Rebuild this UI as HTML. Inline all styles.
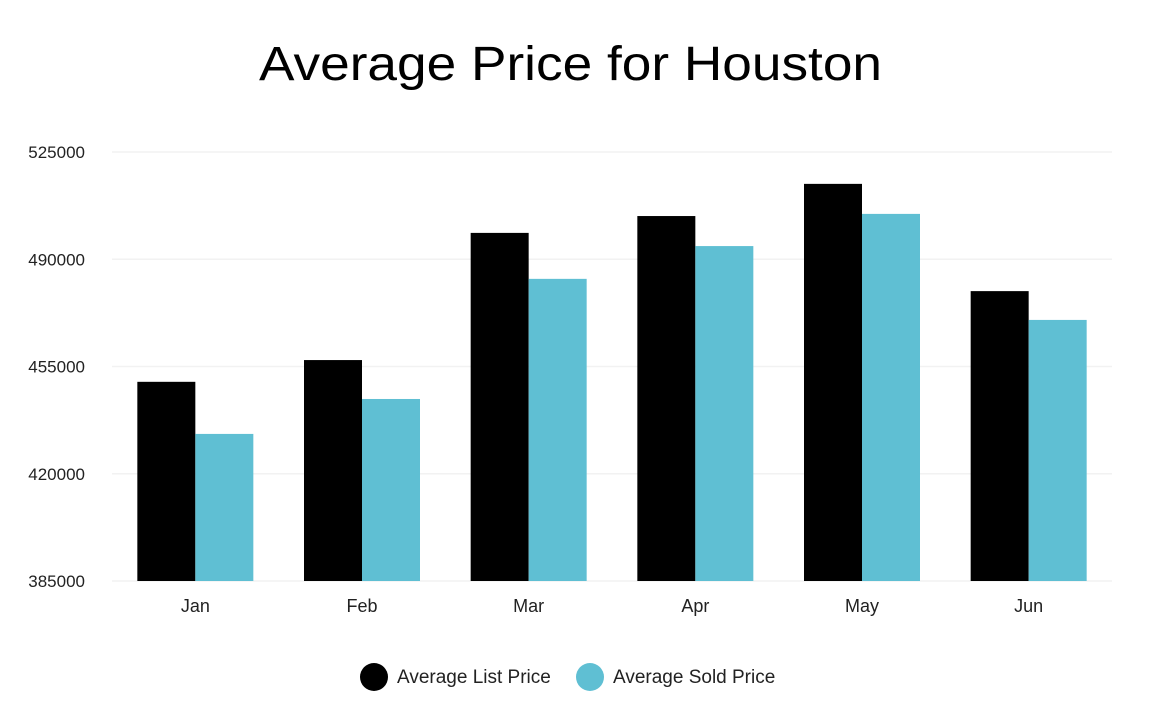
<!DOCTYPE html>
<html><head><meta charset="utf-8"><style>
html,body{margin:0;padding:0;background:#fff;}
svg{display:block;font-family:"Liberation Sans",sans-serif;}
</style></head><body>
<svg id="chart" width="1150" height="712" viewBox="0 0 1150 712">
<text x="259" y="80" textLength="623" lengthAdjust="spacingAndGlyphs" font-size="48" fill="#000">Average Price for Houston</text>
<g id="grid"></g>
<g id="yticks"></g>
<g id="bars"></g>
<g id="xticks"></g>
<g>
<g><circle cx="374" cy="677" r="14" fill="#000"/><text x="397" y="683" font-size="19" fill="#222">Average List Price</text></g>
<g><circle cx="590" cy="677" r="14" fill="#5fbfd3"/><text x="613" y="683" font-size="19" fill="#222">Average Sold Price</text></g>
</g>
</svg>
<script>
const categories = ["Jan","Feb","Mar","Apr","May","Jun"];
const listPrice = [450000,457100,498600,504100,514600,479600];
const soldPrice = [433000,444400,483600,494300,504800,470200];
const yTicks = [385000,420000,455000,490000,525000];
const NS="http://www.w3.org/2000/svg";
const yMin=385000,yMax=525000,yTop=152,yBot=581,xL=112,xR=1112;
const y=v=>yBot-(v-yMin)/(yMax-yMin)*(yBot-yTop);
const band=(xR-xL)/categories.length;
const cx=i=>xL+band*(i+0.5);
const bw=58;
function mk(tag,attrs,parent){const e=document.createElementNS(NS,tag);for(const k in attrs)e.setAttribute(k,attrs[k]);document.getElementById(parent).appendChild(e);return e;}
yTicks.forEach(t=>{
  const l=mk("line",{x1:xL,x2:xR,y1:y(t),y2:y(t),stroke:"#f2f2f2","stroke-width":1.5},"grid");
  
  
  const tx=mk("text",{x:85,y:y(t)+6,"text-anchor":"end","font-size":17,fill:"#222"},"yticks");
  tx.textContent=t;
  
  
});
categories.forEach((c,i)=>{
  const b1=mk("rect",{x:cx(i)-bw,y:y(listPrice[i]),width:bw,height:yBot-y(listPrice[i]),fill:"#000"},"bars");
  
  
  const b2=mk("rect",{x:cx(i),y:y(soldPrice[i]),width:bw,height:yBot-y(soldPrice[i]),fill:"#5fbfd3"},"bars");
  
  
  const tx=mk("text",{x:cx(i),y:612,"text-anchor":"middle","font-size":18,fill:"#222"},"xticks");
  tx.textContent=c;
  
  
});
</script>
</body></html>
